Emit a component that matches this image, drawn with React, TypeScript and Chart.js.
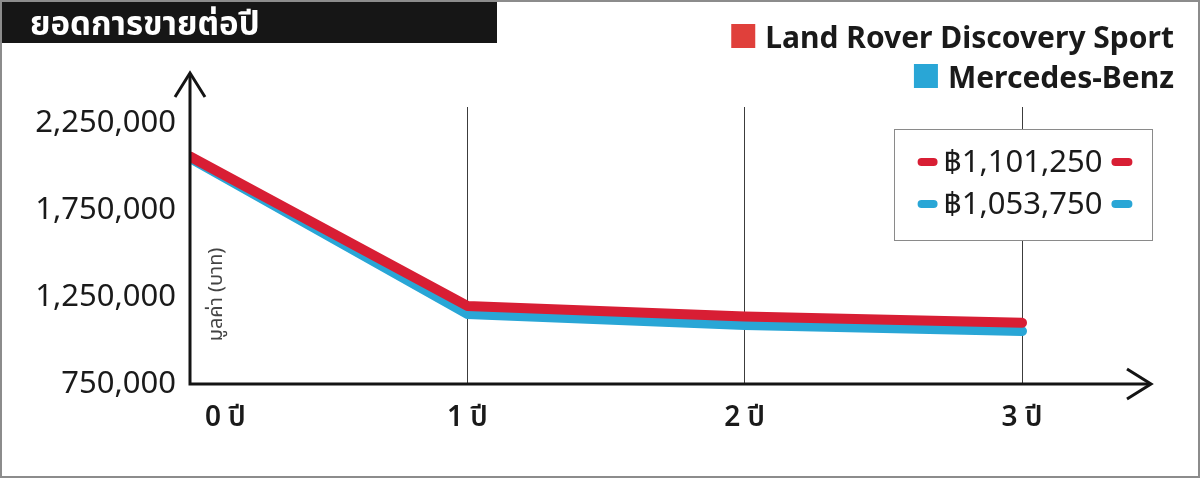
import React, { useEffect, useRef } from "react";
import { Chart, registerables } from "chart.js";

Chart.register(...registerables);

const TITLE = "ยอดการขายต่อปี";
const Y_TITLE = "มูลค่า (บาท)";
const CATEGORIES = ["0 ปี", "1 ปี", "2 ปี", "3 ปี"];
const SERIES_NAMES = ["Land Rover Discovery Sport", "Mercedes-Benz"];
const LAND_ROVER = [2056000, 1198000, 1137000, 1101250];
const MERCEDES = [2047000, 1152000, 1089000, 1053750];
const Y_TICKS = [750000, 1250000, 1750000, 2250000];
const Y_MIN = 750000;
const Y_MAX = 2340000;

const LINE_COLORS = ["#d81e34", "#29a6d6"];
const LEGEND_COLORS = ["#e0403b", "#29a6d6"];

const FONT = "'Noto Sans', 'Noto Sans Thai', 'DejaVu Sans', sans-serif";
const TEXT = "#1a1a1a";

const fmt = (v: number) => Number(v).toLocaleString("en-US");

const decorPlugin = {
  id: "decor",
  beforeDraw(chart: any) {
    const ctx = chart.ctx;
    ctx.save();
    ctx.fillStyle = "#ffffff";
    ctx.fillRect(0, 0, chart.width, chart.height);
    // title bar
    ctx.fillStyle = "#161616";
    ctx.fillRect(0, 0, 497, 43);
    ctx.fillStyle = "#ffffff";
    ctx.font = `bold 33px ${FONT}`;
    ctx.textAlign = "left";
    ctx.textBaseline = "alphabetic";
    ctx.fillText(TITLE, 30, 35);
    ctx.restore();
  },
  beforeDatasetsDraw(chart: any) {
    const ctx = chart.ctx;
    const area = chart.chartArea;
    ctx.save();
    ctx.translate(area.left + 26, (area.top + area.bottom) / 2 + 49);
    ctx.rotate(-Math.PI / 2);
    ctx.font = `20px ${FONT}`;
    ctx.fillStyle = "#444";
    ctx.textAlign = "center";
    ctx.textBaseline = "middle";
    ctx.fillText(Y_TITLE, 0, 0);
    ctx.restore();
  },
  afterDatasetsDraw(chart: any) {
    const ctx = chart.ctx;
    const xs = chart.scales.x;
    const ys = chart.scales.y;
    const area = chart.chartArea;
    const x0 = xs.getPixelForValue(0);
    const y0 = ys.getPixelForValue(Y_MIN);
    const topTip = area.top - 34;
    const rightTip = area.right + 129;
    ctx.save();
    ctx.strokeStyle = "#141414";
    ctx.lineWidth = 3;
    ctx.lineCap = "butt";
    ctx.lineJoin = "miter";
    ctx.beginPath();
    ctx.moveTo(x0, y0 + 1.5);
    ctx.lineTo(x0, topTip + 1);
    ctx.moveTo(x0 - 1.5, y0);
    ctx.lineTo(rightTip - 1, y0);
    ctx.stroke();
    // arrowheads
    ctx.beginPath();
    ctx.moveTo(x0 - 15, topTip + 24);
    ctx.lineTo(x0, topTip);
    ctx.lineTo(x0 + 15, topTip + 24);
    ctx.moveTo(rightTip - 24, y0 - 15);
    ctx.lineTo(rightTip, y0);
    ctx.lineTo(rightTip - 24, y0 + 15);
    ctx.stroke();
    ctx.restore();
  },
  afterDraw(chart: any) {
    const ctx = chart.ctx;
    const xs = chart.scales.x;
    const area = chart.chartArea;
    ctx.save();
    // x labels
    ctx.font = `600 28px ${FONT}`;
    ctx.fillStyle = TEXT;
    ctx.textBaseline = "middle";
    CATEGORIES.forEach((c, i) => {
      const px = xs.getPixelForValue(i);
      if (i === 0) {
        ctx.textAlign = "left";
        ctx.fillText(c, px + 15, area.bottom + 34);
      } else {
        ctx.textAlign = "center";
        ctx.fillText(c, px, area.bottom + 34);
      }
    });

    // legend
    const datasets = chart.data.datasets;
    const legendRight = 1174;
    const rows = [48, 88];
    ctx.font = `bold 30px ${FONT}`;
    ctx.textAlign = "right";
    ctx.textBaseline = "alphabetic";
    datasets.forEach((ds: any, i: number) => {
      ctx.fillStyle = TEXT;
      ctx.fillText(ds.label, legendRight, rows[i]);
      const w = ctx.measureText(ds.label).width;
      ctx.fillStyle = LEGEND_COLORS[i];
      ctx.fillRect(legendRight - w - 10 - 24, rows[i] - 24, 24, 24);
    });

    // value box
    const bx = area.right - 128;
    const by = area.top + 22;
    const bw = 258;
    const bh = 111;
    ctx.fillStyle = "#ffffff";
    ctx.fillRect(bx, by, bw, bh);
    ctx.strokeStyle = "#8a8a8a";
    ctx.lineWidth = 1;
    ctx.strokeRect(bx + 0.5, by + 0.5, bw, bh);
    const cx = bx + bw / 2;
    const rowY = [by + 33, by + 75];
    ctx.font = `31px ${FONT}`;
    ctx.textAlign = "center";
    ctx.textBaseline = "middle";
    datasets.forEach((ds: any, i: number) => {
      const v = ds.data[ds.data.length - 1];
      const label = "฿" + fmt(v);
      const w = ctx.measureText(label).width;
      ctx.fillStyle = TEXT;
      ctx.fillText(label, cx, rowY[i] + 1);
      ctx.strokeStyle = LINE_COLORS[i];
      ctx.lineWidth = 8;
      ctx.lineCap = "round";
      ctx.beginPath();
      ctx.moveTo(cx - w / 2 - 22, rowY[i]);
      ctx.lineTo(cx - w / 2 - 10, rowY[i]);
      ctx.moveTo(cx + w / 2 + 13, rowY[i]);
      ctx.lineTo(cx + w / 2 + 26, rowY[i]);
      ctx.stroke();
    });

    // outer border
    ctx.strokeStyle = "#8c8c8c";
    ctx.lineWidth = 2;
    ctx.strokeRect(1, 1, chart.width - 2, chart.height - 2);
    ctx.restore();
  },
};

export default function App() {
  const canvasRef = useRef<HTMLCanvasElement | null>(null);

  useEffect(() => {
    if (!canvasRef.current) return;
    const chart = new Chart(canvasRef.current, {
      type: "line",
      data: {
        labels: CATEGORIES,
        datasets: [
          {
            label: SERIES_NAMES[0],
            data: LAND_ROVER,
            borderColor: LINE_COLORS[0],
            backgroundColor: LEGEND_COLORS[0],
            borderWidth: 10,
            pointRadius: 0,
            tension: 0,
            fill: false,
            borderCapStyle: "round",
            borderJoinStyle: "round",
            clip: { left: 0, top: 20, right: 20, bottom: 20 },
          },
          {
            label: SERIES_NAMES[1],
            data: MERCEDES,
            borderColor: LINE_COLORS[1],
            backgroundColor: LEGEND_COLORS[1],
            borderWidth: 10,
            pointRadius: 0,
            tension: 0,
            fill: false,
            borderCapStyle: "round",
            borderJoinStyle: "round",
            clip: { left: 0, top: 20, right: 20, bottom: 20 },
          },
        ],
      },
      options: {
        responsive: false,
        maintainAspectRatio: false,
        devicePixelRatio: 1,
        animation: false,
        layout: { padding: { left: 0, top: 107, right: 178, bottom: 0 } },
        plugins: {
          legend: { display: false },
          tooltip: { enabled: false },
          title: { display: false },
        },
        scales: {
          x: {
            type: "category",
            offset: false,
            grid: { display: true, color: "#3c3c3c", lineWidth: 1, drawTicks: false },
            border: { display: false },
            ticks: { display: false },
            afterFit: (s: any) => {
              s.height = 94;
            },
          },
          y: {
            min: Y_MIN,
            max: Y_MAX,
            grid: { display: false, drawTicks: false },
            border: { display: false },
            afterBuildTicks: (s: any) => {
              s.ticks = Y_TICKS.map((v) => ({ value: v }));
            },
            afterFit: (s: any) => {
              s.width = 190;
            },
            ticks: {
              font: { family: FONT, size: 31 },
              color: TEXT,
              padding: 14,
              callback: (v: any) => fmt(v),
            },
          },
        },
      },
      plugins: [decorPlugin],
    });
    return () => chart.destroy();
  }, []);

  return (
    <div style={{ position: "absolute", left: 0, top: 0, width: 1200, height: 478 }}>
      <canvas ref={canvasRef} width={1200} height={478} style={{ display: "block" }} />
    </div>
  );
}
